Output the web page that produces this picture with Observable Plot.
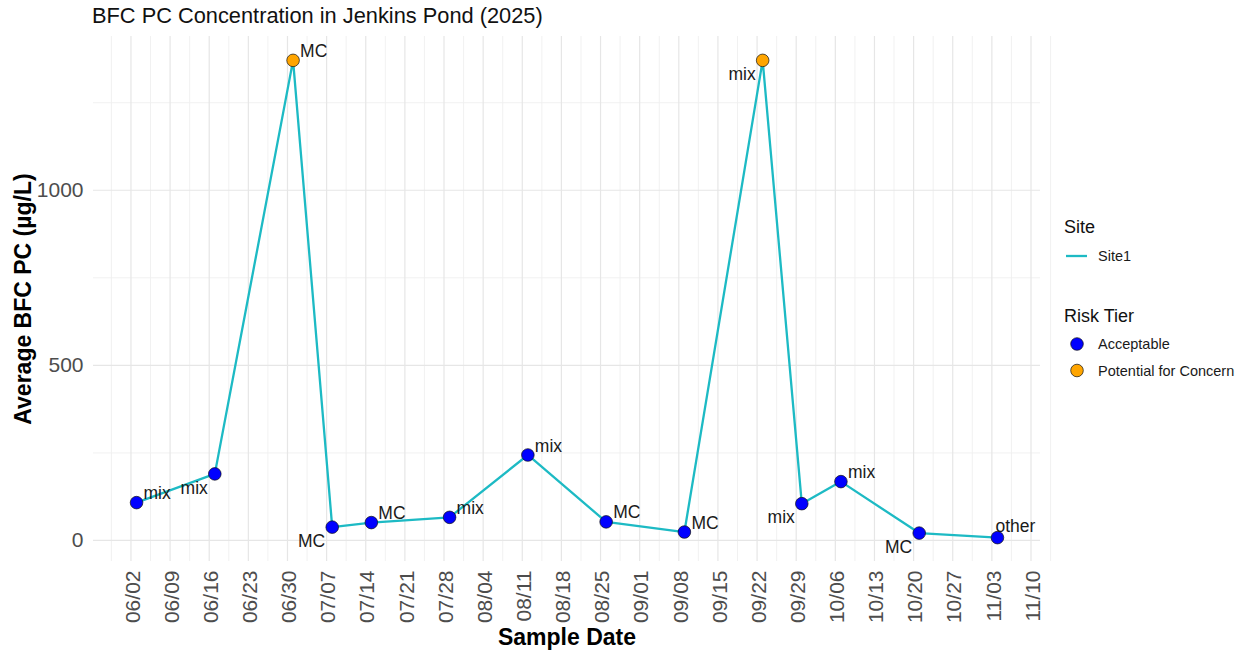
<!DOCTYPE html>
<html>
<head>
<meta charset="utf-8">
<script src="https://cdn.jsdelivr.net/npm/d3@7"></script>
<script src="https://cdn.jsdelivr.net/npm/@observablehq/plot@0.6"></script>
<style>
  html, body { margin: 0; padding: 0; background: #fff; }
  body { width: 1247px; height: 653px; position: relative; overflow: hidden; font-family: Arial, "Liberation Sans", sans-serif; }
  #title { position: absolute; left: 92px; top: 3px; font-size: 21.8px; color: #111; white-space: nowrap; }
  #chart { position: absolute; left: 0; top: 30px; }
  #legend { position: absolute; left: 0; top: 0; pointer-events: none; }
</style>
</head>
<body>
<div id="title">BFC PC Concentration in Jenkins Pond (2025)</div>
<div id="chart"></div>
<svg id="legend" width="1247" height="653"></svg>
<script>
// ---- data ----
const sampleDates = ["2025-06-03","2025-06-17","2025-07-01","2025-07-08","2025-07-15","2025-07-29","2025-08-12","2025-08-26","2025-09-09","2025-09-23","2025-09-30","2025-10-07","2025-10-21","2025-11-04"];
const bfcValues = [108, 190, 1371, 38, 51, 66, 244, 53, 24, 1371, 105, 168, 21, 8];
const typeLabels = ["mix","mix","MC","MC","MC","mix","mix","MC","MC","mix","mix","mix","MC","other"];
const riskTiers = ["Acceptable","Acceptable","Potential for Concern","Acceptable","Acceptable","Acceptable","Acceptable","Acceptable","Acceptable","Potential for Concern","Acceptable","Acceptable","Acceptable","Acceptable"];
const labelSide = ["ne","sw","ne","sw","ne","ne","ne","ne","ne","sw","sw","ne","sw","n"];
const xTickLabels = ["06/02","06/09","06/16","06/23","06/30","07/07","07/14","07/21","07/28","08/04","08/11","08/18","08/25","09/01","09/08","09/15","09/22","09/29","10/06","10/13","10/20","10/27","11/03","11/10"];
const yTicks = [0, 500, 1000];
const yMinorTicks = [250, 750, 1250];
const siteNames = ["Site1"];
const tierNames = ["Acceptable","Potential for Concern"];
const tierColors = ["#0000FF","#FFA500"];
const lineColor = "#1DBAC4";

// ---- build table ----
const parse = d3.utcParse("%Y-%m-%d");
const rows = sampleDates.map((d, i) => ({
  date: parse(d), value: bfcValues[i], type: typeLabels[i], tier: riskTiers[i], side: labelSide[i]
}));
const tickDates = xTickLabels.map(s => parse("2025-" + s.replace("/", "-")));
const halfWeek = 3.5 * 864e5;
const minorDates = [new Date(+tickDates[0] - halfWeek), ...tickDates.map(d => new Date(+d + halfWeek))];

// ggplot-like 5% expansion
const dExt = d3.extent(rows, r => +r.date);
const dPad = (dExt[1] - dExt[0]) * 0.05;
const vExt = d3.extent(bfcValues);
const vPad = (vExt[1] - vExt[0]) * 0.05;

const fmt = d3.utcFormat("%m/%d");
const gridMajor = "#e6e6e6", gridMinor = "#efefef";
const labelFont = 17.5;

const plot = Plot.plot({
  width: 1247,
  height: 623,
  marginTop: 6,
  marginBottom: 92,
  marginLeft: 93,
  marginRight: 207,
  style: { fontFamily: "Arial, 'Liberation Sans', sans-serif", background: "white", overflow: "visible" },
  x: { type: "utc", domain: [new Date(dExt[0] - dPad), new Date(dExt[1] + dPad)], axis: null },
  y: { domain: [vExt[0] - vPad, vExt[1] + vPad], axis: null },
  color: { domain: tierNames, range: tierColors, legend: false },
  marks: [
    Plot.ruleX(minorDates, { x: d => d, stroke: gridMinor, strokeWidth: 0.9 }),
    Plot.ruleY(yMinorTicks, { y: d => d, stroke: gridMinor, strokeWidth: 0.9 }),
    Plot.ruleX(tickDates, { x: d => d, stroke: gridMajor, strokeWidth: 1.2 }),
    Plot.ruleY(yTicks, { y: d => d, stroke: gridMajor, strokeWidth: 1.2 }),
    // axes
    Plot.axisY({ ticks: yTicks, tickFormat: d => String(d), tickSize: 0, tickPadding: 10, fontSize: 21, fill: "#4d4d4d", label: null }),
    Plot.text(tickDates, { x: d => d, frameAnchor: "bottom", lineAnchor: "middle", text: d => fmt(d), rotate: -90, textAnchor: "end", dy: 9, dx: 2, fontSize: 21, fill: "#4d4d4d" }),
    Plot.text(["Sample Date"], { frameAnchor: "bottom", lineAnchor: "middle", textAnchor: "middle", dy: 76, fontSize: 23, fontWeight: "bold", fill: "#000" }),
    Plot.text(["Average BFC PC (µg/L)"], { frameAnchor: "left", lineAnchor: "middle", textAnchor: "middle", rotate: -90, dx: -70, fontSize: 23, fontWeight: "bold", fill: "#000" }),
    // data
    Plot.line(rows, { x: "date", y: "value", stroke: lineColor, strokeWidth: 2.3 }),
    Plot.dot(rows, { x: "date", y: "value", fill: "tier", stroke: "#111", strokeWidth: 0.7, r: 6.3 }),
    Plot.text(rows.filter(r => r.side === "ne"), { x: "date", y: "value", text: "type", textAnchor: "start", dx: 7, dy: -9, fontSize: labelFont, fill: "#1a1a1a" }),
    Plot.text(rows.filter(r => r.side === "n"), { x: "date", y: "value", text: "type", textAnchor: "start", dx: -2, dy: -11, fontSize: labelFont, fill: "#1a1a1a" }),
    Plot.text(rows.filter(r => r.side === "sw"), { x: "date", y: "value", text: "type", textAnchor: "end", dx: -7, dy: 14, fontSize: labelFont, fill: "#1a1a1a" })
  ]
});
document.getElementById("chart").appendChild(plot);

// ---- legend ----
const lg = d3.select("#legend").style("font-family", "Arial, 'Liberation Sans', sans-serif");
lg.append("text").attr("x", 1064).attr("y", 233).attr("font-size", 18).attr("fill", "#111").text("Site");
siteNames.forEach((s, i) => {
  const y = 256 + i * 26;
  lg.append("line").attr("x1", 1066).attr("x2", 1087).attr("y1", y).attr("y2", y).attr("stroke", lineColor).attr("stroke-width", 2.3);
  lg.append("text").attr("x", 1098).attr("y", y + 5).attr("font-size", 14.5).attr("fill", "#1a1a1a").text(s);
});
lg.append("text").attr("x", 1064).attr("y", 322).attr("font-size", 18).attr("fill", "#111").text("Risk Tier");
tierNames.forEach((t, i) => {
  const y = 344 + i * 26.5;
  lg.append("circle").attr("cx", 1077).attr("cy", y).attr("r", 6.3).attr("fill", tierColors[i]).attr("stroke", "#111").attr("stroke-width", 0.7);
  lg.append("text").attr("x", 1098).attr("y", y + 5).attr("font-size", 14.5).attr("fill", "#1a1a1a").text(t);
});
</script>
</body>
</html>
